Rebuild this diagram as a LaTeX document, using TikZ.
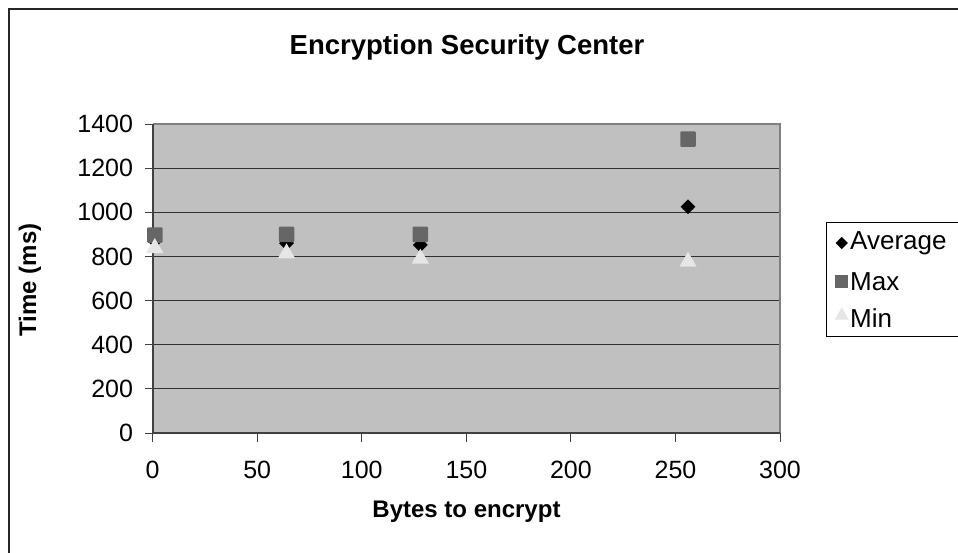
\documentclass[tikz,border=0pt]{standalone}
\usepackage{fontspec}
\setmainfont{Liberation Sans}
\usetikzlibrary{shapes.geometric}
\definecolor{plotbg}{HTML}{C0C0C0}
\definecolor{maxc}{HTML}{666666}
\definecolor{minc}{HTML}{E6E6E6}
\definecolor{gridc}{HTML}{303030}
\definecolor{framec}{HTML}{808080}
\tikzset{
  sqmark/.style={rectangle, fill=maxc, minimum size=15.5pt, inner sep=0pt, rounded corners=1pt},
  dmmark/.style={diamond, fill=black, minimum width=15pt, minimum height=15pt, inner sep=0pt},
  trmark/.style={regular polygon, regular polygon sides=3, fill=minc, minimum size=20pt, inner sep=0pt},
  sqleg/.style={rectangle, fill=maxc, minimum size=13pt, inner sep=0pt},
  dmleg/.style={diamond, fill=black, minimum width=12.5pt, minimum height=12.5pt, inner sep=0pt},
  trleg/.style={regular polygon, regular polygon sides=3, fill=minc, minimum size=16pt, inner sep=0pt},
  ticklab/.style={font=\fontsize{25}{30}\selectfont, inner sep=0pt},
  axtitle/.style={font=\fontsize{24}{29}\selectfont\bfseries, inner sep=0pt},
  legtext/.style={font=\fontsize{26}{31}\selectfont, inner sep=0pt, anchor=west}
}
\begin{document}
\begin{tikzpicture}[x=1pt,y=1pt]
\useasboundingbox (0,0) rectangle (958,-553);
\fill[white] (0,0) rectangle (958,-553);
% outer chart border
\draw[line width=2pt, color=black!85] (970,-8.7) -- (8.5,-8.7) -- (8.5,-570);
% title
\node[font=\fontsize{27.5}{33}\selectfont\bfseries, inner sep=0pt] (title) at (467,-47) {Encryption Security Center};
% plot area
\begin{scope}[shift={(152.7,-433)}, x=2.091pt, y=0.2207pt]
  \fill[plotbg] (0,0) rectangle (300,1400);
  \foreach \v in {200,400,...,1200} {
    \draw[gridc, line width=1pt] (0,\v) -- (300,\v);
  }
  \draw[framec, line width=1.8pt] (0,1400) -- (300,1400) -- (300,0);
  % y axis
  \draw[black!75, line width=2pt] (0,0) -- (0,1400);
  \foreach \v in {0,200,...,1400} {
    \draw[black!75, line width=1pt] (0,\v) -- ++(-7.5pt,0);
    \node[ticklab, anchor=east] (yl\v) at ([xshift=-19.5pt]0,\v) {\v};
  }
  % x axis
  \draw[black!75, line width=2pt] (0,0) -- (300,0);
  \foreach \v in {0,50,...,300} {
    \draw[black!75, line width=1pt] (\v,0) -- ++(0,-8.5pt);
    \node[ticklab] (xl\v) at ([yshift=-37pt]\v,0) {\v};
  }
  % Average
  \node[dmmark] (a1) at (1,870) {};
  \node[dmmark] (a2) at (64,860) {};
  \node[dmmark] (a3) at (128,852) {};
  \node[dmmark] (a4) at (256,1025) {};
  % Max
  \node[sqmark] (m1) at (1,897) {};
  \node[sqmark] (m2) at (64,900) {};
  \node[sqmark] (m3) at (128,900) {};
  \node[sqmark] (m4) at (256,1331) {};
  % Min
  \node[trmark] (n1) at (1,838) {};
  \node[trmark] (n2) at (64,814) {};
  \node[trmark] (n3) at (128,790) {};
  \node[trmark] (n4) at (256,776) {};
\end{scope}
% axis titles
\node[axtitle] (xtitle) at (466.5,-512) {Bytes to encrypt};
\node[axtitle, rotate=90] (ytitle) at (30,-280) {Time (ms)};
% legend
\draw[black, line width=1pt] (826.7,-222.3) rectangle (980,-336.7);
\node[dmleg] (la) at (841.7,-243) {};
\node[legtext] (lta) at (850,-243) {Average};
\node[sqleg] (lm) at (841.7,-281.7) {};
\node[legtext] (ltm) at (850,-281.7) {Max};
\node[trleg] (ln) at (841.7,-315.5) {};
\node[legtext] (ltn) at (850,-318) {Min};
\end{tikzpicture}
\end{document}
